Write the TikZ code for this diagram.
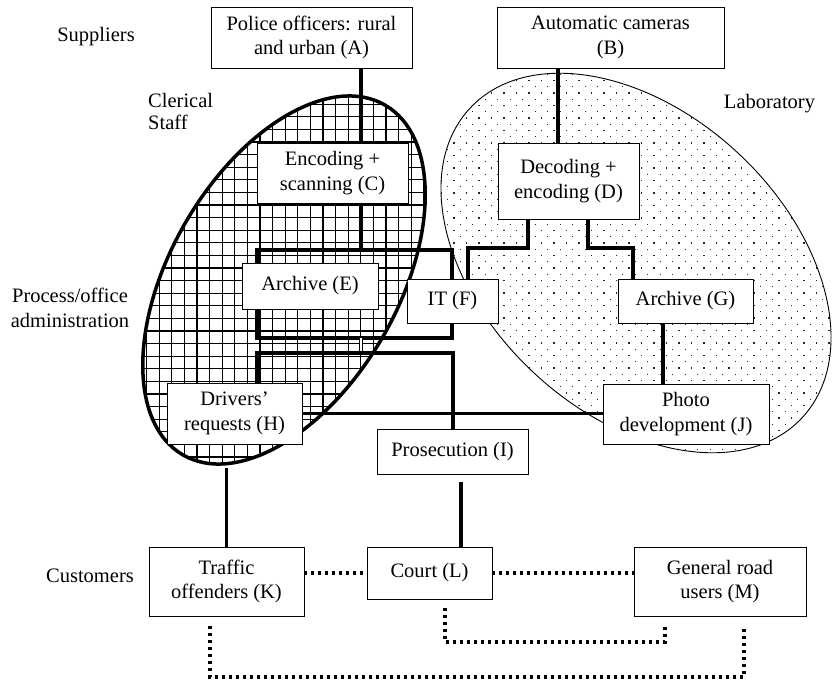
\documentclass[tikz,border=0pt]{standalone}
\usepackage{fontspec}
\setmainfont{Liberation Serif}
\pgfdeclarelayer{bg}
\pgfdeclarelayer{mid}
\pgfsetlayers{bg,mid,main}
\begin{document}
\begin{tikzpicture}[x=1pt,y=-1pt,
  box/.style={draw, line width=0.9pt, fill=white, inner sep=0pt, align=center, font=\fontsize{20.5}{24.5}\selectfont},
  lbl/.style={inner sep=0pt, font=\fontsize{20.5}{24.5}\selectfont},
  conn/.style={line width=3.2pt},
  dotline/.style={line width=3.2pt, dash pattern=on 3pt off 4pt},
  gridl/.style={line width=1.3pt},
  clerical/.style={rotate around={60:(284,280)}},
  lab/.style={rotate around={-43:(636,263)}}]
\useasboundingbox (0,0) rectangle (832,681);

% ---- boxes ----
\path
  (311.5,37.5)  node[box, minimum width=201pt, minimum height=61pt] (A) {Police officers: rural\\and urban (A)}
  (610.5,37.5)  node[box, minimum width=227pt, minimum height=61pt] (B) {Automatic cameras\\(B)}
  (332.5,173)   node[box, minimum width=151pt, minimum height=60pt] (C) {Encoding +\\scanning (C)}
  (568.5,181)   node[box, minimum width=141pt, minimum height=76pt] (D) {Decoding +\\encoding (D)}
  (310,286)     node[box, minimum width=136pt, minimum height=46pt] (E) {Archive (E)}
  (452.5,301)   node[box, minimum width=91pt,  minimum height=44pt] (F) {IT (F)}
  (685.5,301)   node[box, minimum width=135pt, minimum height=44pt] (G) {Archive (G)}
  (234.5,413.5) node[box, minimum width=135pt, minimum height=61pt] (H) {Drivers'\\requests (H)}
  (452.5,451.5) node[box, minimum width=151pt, minimum height=45pt] (I) {Prosecution (I)}
  (686,414)     node[box, minimum width=166pt, minimum height=60pt] (J) {Photo\\development (J)}
  (226.5,581.5) node[box, minimum width=155pt, minimum height=69pt] (K) {Traffic\\offenders (K)}
  (429.5,573)   node[box, minimum width=125pt, minimum height=52pt] (L) {Court (L)}
  (720,581.5)   node[box, minimum width=172pt, minimum height=69pt] (M) {General road\\users (M)};

% ---- labels ----
\node[lbl, anchor=base] (sup) at (96,41) {Suppliers};
\node[lbl, anchor=north west, align=left, font=\fontsize{20.5}{22}\selectfont] (cler) at (148,93) {Clerical\\Staff};
\node[lbl, anchor=base] (labo) at (769.5,108) {Laboratory};
\node[lbl, align=center] (proc) at (70,308) {Process/office\\administration};
\node[lbl, anchor=base east] (cust) at (134,582) {Customers};

% ---- connector coordinates ----
\coordinate (xac) at (361,0);
\coordinate (xbd) at (558,0);
\coordinate (l1a) at (257,250);
\coordinate (l1b) at (452,338);
\coordinate (l2l) at (257,353);
\coordinate (l2r) at (453,353);
\coordinate (xdf) at (528,248);
\coordinate (xf)  at (468,248);
\coordinate (xdg) at (588,248);
\coordinate (xg)  at (633,248);
\coordinate (xgj) at (663,0);
\coordinate (xil) at (461,0);
\coordinate (xhk) at (226.5,468);
\coordinate (lb1) at (445,642);
\coordinate (lb2) at (665,642);
\coordinate (kb1) at (210,677);
\coordinate (kb2) at (744,677);

% ---- ellipses (background) ----
\begin{pgfonlayer}{bg}
\begin{scope}
  \clip[lab] (636,263) ellipse [x radius=227pt, y radius=150pt];
  \foreach \r in {0,...,66}{
    \pgfmathsetmacro{\yy}{61+(\r-1)*6.25}
    \pgfmathsetmacro{\xo}{mod(\r,2)*6.25}
    \foreach \c in {0,...,36}{
      \fill[black!85] ({390.8+\xo+\c*12.5},\yy) rectangle ++(1.3,1.3);
    }
  }
\end{scope}
\draw[lab, line width=0.9pt] (636,263) ellipse [x radius=227pt, y radius=150pt];
\begin{scope}
  \clip[clerical] (284,280) ellipse [x radius=202pt, y radius=114pt];
  \fill[white] (100,60) rectangle (480,490);
  \foreach \k in {-6,...,21}{
    \draw[gridl] ({197+\k*12.6},60) -- ({197+\k*12.6},490);
  }
  \foreach \k in {-12,...,23}{
    \draw[gridl] (100,{205+\k*12.6}) -- (480,{205+\k*12.6});
  }
\end{scope}
\draw[clerical, line width=3.5pt] (284,280) ellipse [x radius=202pt, y radius=114pt];
\end{pgfonlayer}

% ---- connectors (under the boxes) ----
\begin{pgfonlayer}{mid}
\draw[conn] (A.south -| xac) -- (C.north -| xac);
\draw[conn] (C.south -| xac) -- (xac |- l1a);
\draw[conn] (l1a) rectangle (l1b);
\draw[line width=0.6pt, double distance=2pt] (xac |- l1b) -- (xac |- l2l);
\draw[conn] (H.north -| l2l) -- (l2l) -- (l2r) -- (I.north -| l2r);
\draw[conn] (H.east) -- (J.west |- H.east);
\draw[conn] (B.south -| xbd) -- (D.north -| xbd);
\draw[conn] (D.south -| xdf) -- (xdf) -- (xf) -- (F.north -| xf);
\draw[conn] (D.south -| xdg) -- (xdg) -- (xg) -- (G.north -| xg);
\draw[conn] (G.south -| xgj) -- (J.north -| xgj);
\draw[conn] (K.north) -- (xhk);
\draw[conn, shorten >=8pt] (L.north -| xil) -- (I.south -| xil);
% dotted connectors
\draw[dotline] (K.east |- L.west) -- (L.west);
\draw[dotline] (L.east) -- (M.west |- L.east);
\draw[dotline, shorten <=9pt, shorten >=10pt] (L.south -| lb1) -- (lb1) -- (lb2) -- (M.south -| lb2);
\draw[dotline, shorten <=10pt, shorten >=10pt] (K.south -| kb1) -- (kb1) -- (kb2) -- (M.south -| kb2);
\end{pgfonlayer}
\end{tikzpicture}
\end{document}
